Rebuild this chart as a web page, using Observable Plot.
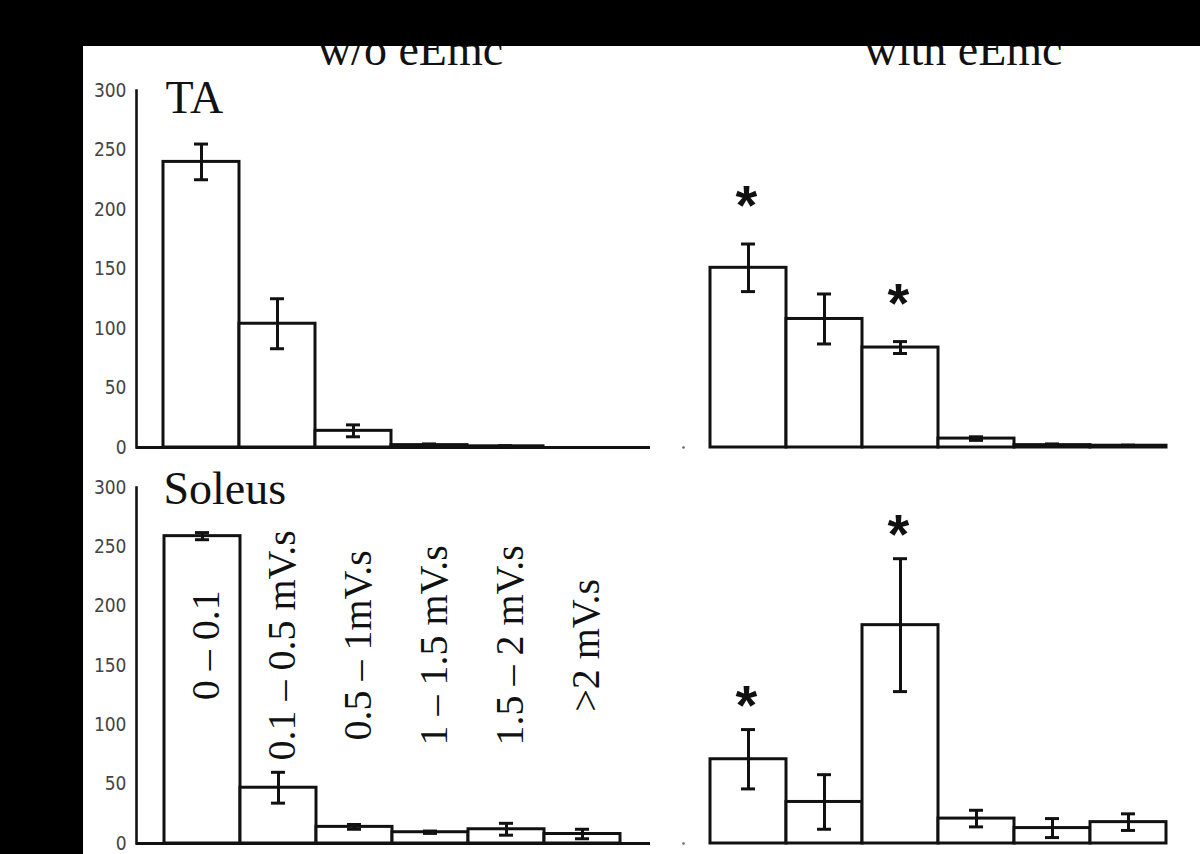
<!DOCTYPE html>
<html>
<head>
<meta charset="utf-8">
<script src="https://cdn.jsdelivr.net/npm/d3@7"></script>
<script src="https://cdn.jsdelivr.net/npm/@observablehq/plot@0.6"></script>
<style>
  html, body { margin: 0; padding: 0; background: #000; width: 1200px; height: 854px; overflow: hidden; }
  #sheet { position: absolute; left: 83px; top: 46px; width: 1117px; height: 808px; background: #fff; overflow: hidden; }
  #sheet svg { position: absolute; background: transparent; overflow: hidden; }
</style>
</head>
<body>
<div id="sheet"></div>
<script>
// ---- data ----
const categories = ["0 – 0.1", "0.1 – 0.5 mV.s", "0.5 – 1mV.s", "1 – 1.5 mV.s", "1.5 – 2 mV.s", ">2 mV.s"];
const conditions = ["w/o eEmc", "with eEmc"];
const muscles = ["TA", "Soleus"];
const yTicks = [0, 50, 100, 150, 200, 250, 300];

const taWithout = [240, 104, 14, 2, 1, 0];
const taWithoutErr = [15, 21, 5, 1, 0.5, 0];
const taWith = [151, 108, 84, 7.5, 2, 1.5];
const taWithErr = [20, 21, 5, 1.5, 1, 0.5];
const soleusWithout = [259, 47, 14, 9.5, 12, 8];
const soleusWithoutErr = [3, 13, 2, 1, 5, 4];
const soleusWith = [71, 35, 184, 21, 13, 18];
const soleusWithErr = [25, 23, 56, 7, 8, 7];

const taWithStars = [categories[0], categories[2]];
const soleusWithStars = [categories[0], categories[2]];

// ---- drawing ----
const serif = "'Liberation Serif', 'Times New Roman', serif";
const sans = "'Liberation Sans', Arial, sans-serif";
const tickFont = "'DejaVu Sans Condensed', 'DejaVu Sans', sans-serif";
const sheet = document.getElementById("sheet");
const SX = 83, SY = 46;

function panel(cfg) {
  const rows = categories.map((c, i) => ({cat: c, v: cfg.values[i], e: cfg.errs[i]}));
  const box = cfg.box, fr = cfg.frame;
  const marks = [];
  if (cfg.baseline) marks.push(Plot.ruleY([0], {stroke: "#111", strokeWidth: 3}));
  if (cfg.axis) {
    marks.push(Plot.frame({anchor: "left", stroke: "#111", strokeWidth: 2.6}));
    marks.push(Plot.axisY(yTicks, {tickSize: 0, tickPadding: 10, fontSize: 19, fontFamily: tickFont, color: "#444", label: null}));
  } else {
    marks.push(Plot.dot([0], {frameAnchor: "bottom-left", r: 1.3, fill: "#666", stroke: null}));
  }
  marks.push(Plot.barY(rows.filter(d => d.v > 0), {x: "cat", y: "v", fill: "white", stroke: "#111", strokeWidth: 3}));
  const er = rows.filter(d => d.e > 0);
  marks.push(Plot.ruleX(er, {x: "cat", y1: d => d.v - d.e, y2: d => d.v + d.e, stroke: "#111", strokeWidth: 3}));
  marks.push(Plot.tickY(er, {x: "cat", y: d => d.v + d.e, insetLeft: 31, insetRight: 31, stroke: "#111", strokeWidth: 3}));
  marks.push(Plot.tickY(er, {x: "cat", y: d => d.v - d.e, insetLeft: 31, insetRight: 31, stroke: "#111", strokeWidth: 3}));
  if (cfg.stars) {
    const st = rows.filter(d => cfg.stars.includes(d.cat));
    marks.push(Plot.text(st, {x: "cat", y: d => d.v + d.e, text: () => "*", fontSize: 56, fontWeight: "bold", fontFamily: sans, dy: cfg.starDy, dx: -2, lineAnchor: "middle", fill: "#111"}));
  }
  if (cfg.binLabels) {
    marks.push(Plot.text(categories, {x: d => d, y: 167, text: d => d, rotate: -90, fontSize: 40, fontFamily: serif, lineAnchor: "middle", dx: 4, fill: "#111"}));
  }
  if (cfg.title) {
    marks.push(Plot.text([cfg.title], {frameAnchor: "top", text: d => d, dx: cfg.titleDx, dy: 64 - fr.top, lineAnchor: "bottom", fontSize: 46, fontFamily: serif, fill: "#111"}));
  }
  if (cfg.label) {
    marks.push(Plot.text([cfg.label], {frameAnchor: "top-left", text: d => d, textAnchor: "start", lineAnchor: "bottom", dx: cfg.labelDx, dy: cfg.labelDy, fontSize: 46, fontFamily: serif, fill: "#111"}));
  }
  const svg = Plot.plot({
    width: box.w, height: box.h,
    marginLeft: fr.left - box.x, marginRight: box.x + box.w - fr.right,
    marginTop: fr.top - box.y, marginBottom: box.y + box.h - fr.bottom,
    style: {background: "transparent", overflow: "hidden"},
    x: {type: "band", domain: categories, range: [cfg.bars[0] - box.x, cfg.bars[1] - box.x], padding: 0, axis: null},
    y: {domain: [0, 300], axis: null},
    marks
  });
  svg.style.left = (box.x - SX) + "px";
  svg.style.top = (box.y - SY) + "px";
  sheet.appendChild(svg);
}

panel({box: {x: 83, y: 46, w: 577, h: 414}, frame: {left: 136, right: 650, top: 90, bottom: 447}, bars: [163, 619],
  values: taWithout, errs: taWithoutErr, axis: true, baseline: true,
  title: conditions[0], titleDx: 17, label: muscles[0], labelDx: 29, labelDy: 22});
panel({box: {x: 660, y: 46, w: 540, h: 414}, frame: {left: 683, right: 1167, top: 90, bottom: 447}, bars: [709, 1167],
  values: taWith, errs: taWithErr, title: conditions[1], titleDx: 38, stars: taWithStars, starDy: -38});
panel({box: {x: 83, y: 460, w: 577, h: 394}, frame: {left: 136, right: 650, top: 487, bottom: 843}, bars: [163, 620],
  values: soleusWithout, errs: soleusWithoutErr, axis: true, baseline: true,
  label: muscles[1], labelDx: 27, labelDy: 16, binLabels: true});
panel({box: {x: 660, y: 460, w: 540, h: 394}, frame: {left: 683, right: 1167, top: 487, bottom: 843}, bars: [709, 1167],
  values: soleusWith, errs: soleusWithErr, stars: soleusWithStars, starDy: -24});
</script>
</body>
</html>
